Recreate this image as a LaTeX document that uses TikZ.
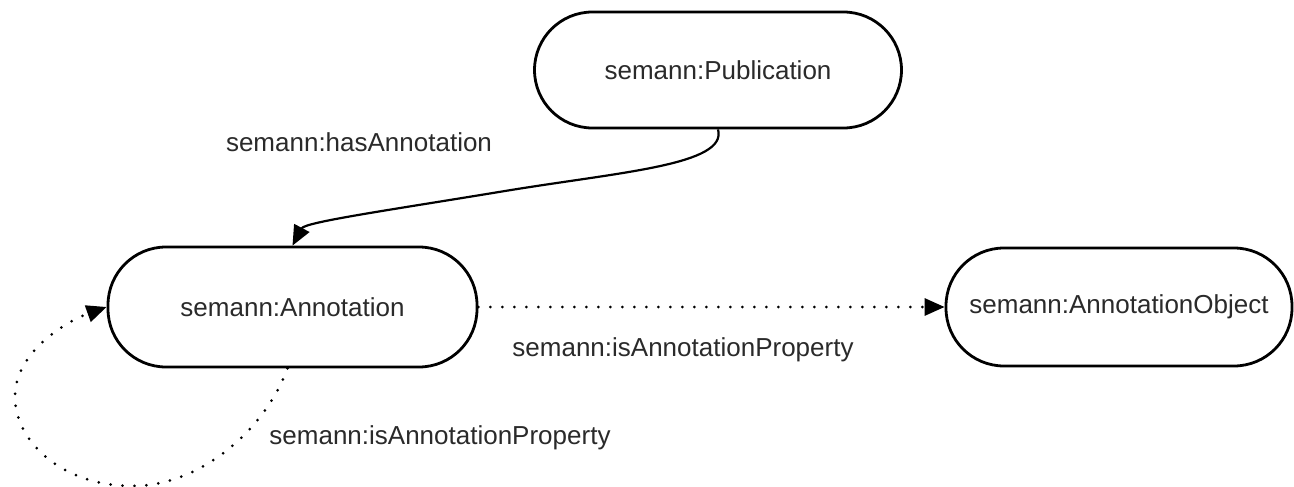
\documentclass[tikz,border=0pt]{standalone}
\usepackage{fontspec}
\setmainfont{Liberation Sans}
\usetikzlibrary{arrows.meta,calc}
\definecolor{txt}{HTML}{2A2A2A}
\begin{document}
\begin{tikzpicture}[x=1pt,y=-1pt,
  every node/.style={font=\fontsize{26}{31}\selectfont, text=txt},
  cls/.style={draw=black, line width=2.8pt, rectangle, rounded corners=58pt, fill=white, inner sep=0pt},
  lbl/.style={inner sep=0pt},
  rel/.style={line width=2.2pt, -{Triangle[length=20pt,width=17pt]}},
  dotrel/.style={line width=3pt, line cap=round, dash pattern=on 0pt off 12pt, -{Triangle[length=20pt,width=17pt]}}
]
\useasboundingbox[fill=white] (0,0) rectangle (1294,487);

\node[cls, minimum width=367pt, minimum height=116pt] (pub) at (718,70) {semann:Publication};
\node[cls, minimum width=369pt, minimum height=120pt] (ann) at (292.5,307) {semann:Annotation};
\node[cls, minimum width=346pt, minimum height=118pt] (obj) at (1119,307) {semann:AnnotationObject};

\node[lbl] (l1) at (359,142) {semann:hasAnnotation};
\node[lbl] (l2) at (683,350) {semann:isAnnotationProperty};
\node[lbl] (l3) at (440,438) {semann:isAnnotationProperty};

\coordinate (m1) at (505,191);
\coordinate (b1) at (133,486);
\coordinate (b2) at (15,397);

\draw[rel] (pub.south) .. controls (728,165) and (620,172) .. (m1)
  .. controls (390,210) and (305,222) .. (ann.north);

\draw[dotrel] (ann.east) -- (obj.west);

\draw[dotrel] ($(ann.south)+(-5,0)$) .. controls (265,430) and (200,486) .. (b1)
  .. controls (60,486) and (15,440) .. (b2)
  .. controls (15,350) and (70,320) .. (ann.west);
\end{tikzpicture}
\end{document}
